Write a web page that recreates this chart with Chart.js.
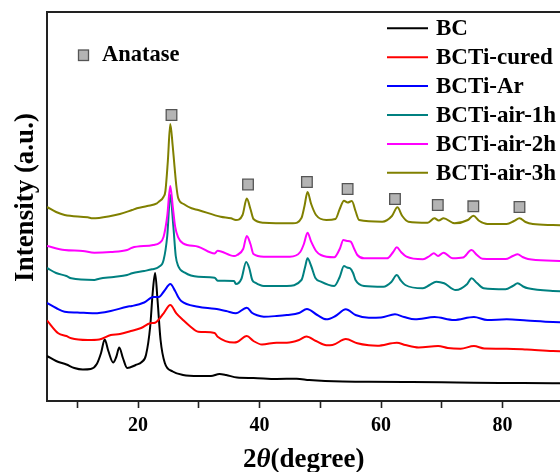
<!DOCTYPE html>
<html><head><meta charset="utf-8">
<script src="https://cdn.jsdelivr.net/npm/chart.js@4/dist/chart.umd.min.js"></script>
<style>
html,body{margin:0;padding:0;overflow:hidden;background:#fff;width:560px;height:472px}
#wrap{position:absolute;left:0;top:0;width:572px;height:472px}
</style></head>
<body><div id="wrap"><canvas id="c" width="572" height="472"></canvas></div>
<script>
// ---- data ----
const seriesNames = ['BC', 'BCTi-cured', 'BCTi-Ar', 'BCTi-air-1h', 'BCTi-air-2h', 'BCTi-air-3h'];
const seriesColors = ['#000000', '#ff0000', '#0000ff', '#008080', '#ff00ff', '#808000'];

const bcTheta = [5, 6.5, 8.2, 9.5, 10.9, 12.2, 13.2, 13.9, 14.5, 15.1, 15.9, 16.4, 16.9, 17.5, 18.2, 19.6, 20.6, 21.3, 22.0, 22.4, 22.8, 23.2, 23.7, 24.4, 25.7, 27.4, 30.0, 32.0, 33.4, 34.5, 36.3, 39.0, 42.8, 46.1, 48.2, 53.7, 58, 64.4, 70, 75.3, 82, 88.3, 90];
const bcI = [45, 40, 36.5, 33, 31.5, 32, 37, 48, 61.5, 50, 38.5, 44, 53.5, 43, 33, 36, 39, 46, 75, 108, 128, 101, 61, 38, 29.5, 26, 25, 25, 27, 26, 23.5, 23, 22, 22.3, 21, 19.5, 19.3, 19, 18.7, 18.3, 18, 17.7, 17.6];

const curedTheta = [5, 6.85, 8.2, 9.0, 11.7, 13.6, 15.5, 17, 18.8, 20.5, 22, 22.8, 24.2, 25.3, 26.3, 27.4, 28.5, 29.9, 32.6, 33.1, 35.8, 36.3, 37.9, 39.0, 40.4, 42.8, 44.5, 46.5, 47.7, 49.3, 51, 52, 54.2, 56.1, 58, 59.4, 62.6, 64, 66.2, 69.4, 71, 73.1, 75.3, 77, 80.7, 84, 88.3, 90];
const curedI = [80.5, 67.7, 65, 62.7, 61, 61.5, 66, 67, 70, 73, 77.7, 78.3, 87.7, 96, 87.7, 81, 75, 69.3, 68, 64.3, 58.5, 59, 65, 60, 56.5, 58.3, 58.3, 61, 64.5, 60, 55.8, 56, 62, 57.7, 55.7, 55.3, 58.3, 56, 53.5, 55, 53, 52.3, 55, 52.5, 52.3, 51.5, 50, 49.8];

const arTheta = [5, 6.5, 7.9, 10, 12.8, 15.5, 18.2, 19, 21, 22.5, 23.4, 24.3, 25.3, 26.1, 26.6, 27.1, 29.9, 32.6, 34.5, 36.1, 37.9, 38.8, 39.6, 40.7, 42.8, 44.5, 46.5, 47.8, 49.5, 51, 52.5, 54.2, 55.8, 58, 60, 62.3, 63.8, 65.6, 68.8, 72, 75.3, 77.5, 80.7, 84, 88.3, 90];
const arI = [98, 93, 89.3, 88.5, 87.7, 90, 94.3, 95, 98.5, 104, 104, 110, 117, 110, 104, 100, 94.3, 92.3, 90, 87.7, 93.3, 88, 85.7, 84.3, 85, 86, 88, 92, 86, 81.7, 85, 91.7, 86, 83.3, 83.5, 86.7, 84, 81.7, 84, 81, 84, 81, 81.7, 80.5, 79, 78.8];

const air1Theta = [5, 6.5, 8.2, 9, 12.8, 13.6, 16, 18.2, 19, 21, 22.3, 23.4, 24.2, 24.8, 25.3, 25.8, 26.2, 26.6, 27.7, 29.9, 32.6, 33.1, 35.8, 36.1, 37.0, 37.8, 38.3, 38.8, 39.3, 40.7, 42.8, 44.5, 46.9, 47.5, 47.9, 48.5, 49.2, 50.1, 52.3, 53.2, 53.9, 54.4, 54.9, 55.4, 55.8, 57.2, 60.4, 61.7, 62.6, 63.2, 64, 66.9, 68, 69.1, 70.4, 72.3, 74.2, 74.9, 75.8, 76.9, 80.5, 81.7, 82.5, 83.4, 84.2, 88.3, 90];
const air1I = [133, 128, 125, 122.7, 121, 122.3, 124, 126, 127.7, 130, 131.7, 134, 141, 165, 206, 175, 145, 135, 128.3, 124.3, 123.3, 120.3, 120, 117, 122, 139, 133, 121, 118.3, 115, 115, 115, 121, 134, 142.7, 135, 123, 119.3, 115, 124, 135, 133.5, 132.7, 128, 121, 115, 114.3, 119, 126, 121, 116, 112.7, 116, 119.3, 117.7, 111, 117, 122.7, 118, 112.7, 111.7, 115, 117.7, 114.5, 112.7, 110, 109.8];

const air2Theta = [5, 7.9, 10.9, 12.8, 15.5, 18.2, 19, 22.5, 23.5, 24.2, 24.8, 25.3, 25.7, 26.1, 26.6, 27.4, 29.9, 32.6, 33.1, 35.8, 36.3, 37.3, 37.9, 38.5, 39.0, 40.7, 45, 46.7, 47.3, 47.9, 48.5, 49.3, 50.1, 52.3, 53.2, 53.8, 54.4, 55, 55.6, 56.1, 57.2, 61, 62, 62.6, 63.3, 64.2, 66.9, 68, 68.7, 69.4, 70.3, 71.8, 73.5, 74.9, 75.8, 76.7, 80.5, 81.7, 82.5, 83.3, 84.2, 88.3, 90];
const air2I = [155, 151, 150, 148.3, 149, 151, 153.3, 156, 158, 164.3, 185, 215, 195, 174.3, 163.7, 157.7, 154.3, 147.5, 150.3, 145, 146, 152, 165, 157, 147, 144.3, 144.3, 149, 157, 168.3, 159.3, 150, 146, 143.7, 152, 161, 160, 159.3, 152, 146, 142.7, 142.7, 149, 153.7, 149, 144.3, 141.7, 145, 147.7, 145, 148.3, 142.7, 143.5, 151, 146, 142.3, 142, 145, 146.7, 144, 142, 140.3, 140];

const air3Theta = [5, 6.5, 7.9, 11.7, 12.5, 15.5, 17, 19, 19.8, 21.5, 23.1, 23.4, 24.2, 24.5, 24.9, 25.3, 25.7, 26.0, 26.3, 26.6, 27.5, 28.8, 29.9, 33.6, 35.3, 36.1, 37.2, 37.9, 38.5, 39, 40.7, 45.5, 46.9, 47.4, 47.9, 48.5, 49.3, 51, 52.5, 53.2, 53.9, 54.5, 55.2, 55.8, 56.4, 60.2, 61.8, 62.7, 63.5, 64.5, 67.7, 68.8, 69.5, 70.3, 72.1, 74.3, 75.2, 76.2, 77.5, 80.7, 81.9, 82.8, 83.8, 85, 88.3, 90];
const air3I = [194, 189, 186, 183.7, 182.7, 185, 187, 191, 192.7, 195, 197.7, 199.3, 204.3, 210, 240, 277, 255, 234.3, 215, 203, 197, 192.7, 191, 184.3, 182.7, 181, 186, 202.5, 192, 182, 178.3, 177.7, 183, 195, 209, 197, 186, 181, 182, 192, 200.3, 198.5, 200, 190, 181, 179.3, 185, 193.7, 185, 179.3, 178.3, 182.7, 180.5, 182.7, 177.7, 181, 185.3, 180, 177, 177, 180, 182.7, 179, 177, 176, 175.8];

// anatase reflection markers (2theta, height)
const anataseTheta = [25.5, 38.1, 47.8, 54.5, 62.3, 69.35, 75.2, 82.8];
const anataseY = [286, 216.5, 219, 212, 202, 196, 194.7, 194];

const xTickValues = [10, 20, 30, 40, 50, 60, 70, 80, 90];
const xTickLabels = ['', '20', '', '40', '', '60', '', '80', ''];

// ---- build chart ----
const thetaSets = [bcTheta, curedTheta, arTheta, air1Theta, air2Theta, air3Theta];
const intSets = [bcI, curedI, arI, air1I, air2I, air3I];
const FONT = '"Liberation Serif", "Times New Roman", serif';

const datasets = seriesNames.map((name, i) => ({
  label: name,
  data: thetaSets[i].map((t, k) => ({x: t, y: intSets[i][k]})),
  borderColor: seriesColors[i],
  backgroundColor: seriesColors[i],
  borderWidth: 2,
  pointRadius: 0,
  fill: false,
  cubicInterpolationMode: 'monotone',
  order: seriesNames.length - i
}));
datasets.push({
  label: 'Anatase',
  type: 'scatter',
  data: anataseTheta.map((t, k) => ({x: t, y: anataseY[k]})),
  pointStyle: 'rect',
  pointRadius: 7.5,
  pointBackgroundColor: '#b4b4b4',
  pointBorderColor: '#555555',
  pointBorderWidth: 1.3,
  showLine: false,
  order: -1
});

const decorPlugin = {
  id: 'decor',
  afterDraw(chart) {
    const ctx = chart.ctx;
    ctx.save();
    // legend of series
    const rowY0 = 28.3, rowStep = 28.9;
    ctx.textAlign = 'left';
    ctx.textBaseline = 'alphabetic';
    seriesNames.forEach((name, i) => {
      const y = rowY0 + i * rowStep;
      ctx.strokeStyle = seriesColors[i];
      ctx.lineWidth = 2;
      ctx.beginPath();
      ctx.moveTo(387, y);
      ctx.lineTo(428, y);
      ctx.stroke();
      ctx.fillStyle = '#000';
      ctx.font = 'bold 23px ' + FONT;
      ctx.fillText(name, 436, y + 6.8);
    });
    // anatase key
    ctx.fillStyle = '#b4b4b4';
    ctx.strokeStyle = '#555555';
    ctx.lineWidth = 1.3;
    ctx.fillRect(78.5, 50, 10, 10.5);
    ctx.strokeRect(78.5, 50, 10, 10.5);
    ctx.fillStyle = '#000';
    ctx.font = 'bold 22.5px ' + FONT;
    ctx.fillText('Anatase', 102, 60.7);
    // x axis title with italic theta
    const parts = [['2', 'bold'], ['\u03B8', 'italic bold'], ['(degree)', 'bold']];
    let x = 243;
    const yb = 466.8;
    parts.forEach(([txt, st]) => {
      ctx.font = st + ' 27px ' + FONT;
      ctx.fillText(txt, x, yb);
      x += ctx.measureText(txt).width;
    });
    // y axis title
    ctx.save();
    ctx.translate(33, 197.5);
    ctx.rotate(-Math.PI / 2);
    ctx.textAlign = 'center';
    ctx.font = 'bold 27px ' + FONT;
    ctx.fillText('Intensity (a.u.)', 0, 0);
    ctx.restore();
    ctx.restore();
  }
};

new Chart(document.getElementById('c'), {
  type: 'line',
  data: {datasets},
  options: {
    responsive: false,
    animation: false,
    devicePixelRatio: 1,
    layout: {padding: {left: 0, right: 1.5, top: 0, bottom: 0}},
    plugins: {legend: {display: false}, tooltip: {enabled: false}},
    scales: {
      x: {
        type: 'linear', position: 'bottom', min: 5, max: 90,
        afterBuildTicks: s => { s.ticks = xTickValues.map(v => ({value: v})); },
        afterFit: s => { s.height = 71; },
        grid: {drawOnChartArea: false, drawTicks: true, tickLength: 7, tickColor: '#222', tickWidth: 1.6},
        border: {display: true, color: '#222', width: 2},
        ticks: {
          color: '#000', padding: 6, maxRotation: 0, autoSkip: false,
          font: {family: FONT, size: 20, weight: 'bold'},
          callback: (v, idx) => xTickLabels[idx]
        }
      },
      xTop: {
        type: 'linear', position: 'top', min: 5, max: 90,
        afterFit: s => { s.height = 12; },
        grid: {drawOnChartArea: false, drawTicks: false},
        border: {display: true, color: '#222', width: 2},
        ticks: {display: false}
      },
      y: {
        type: 'linear', position: 'left', min: 0, max: 389,
        afterFit: s => { s.width = 47; },
        grid: {drawOnChartArea: false, drawTicks: false},
        border: {display: true, color: '#222', width: 2},
        ticks: {display: false}
      }
    }
  },
  plugins: [decorPlugin]
});
</script>
</body></html>
